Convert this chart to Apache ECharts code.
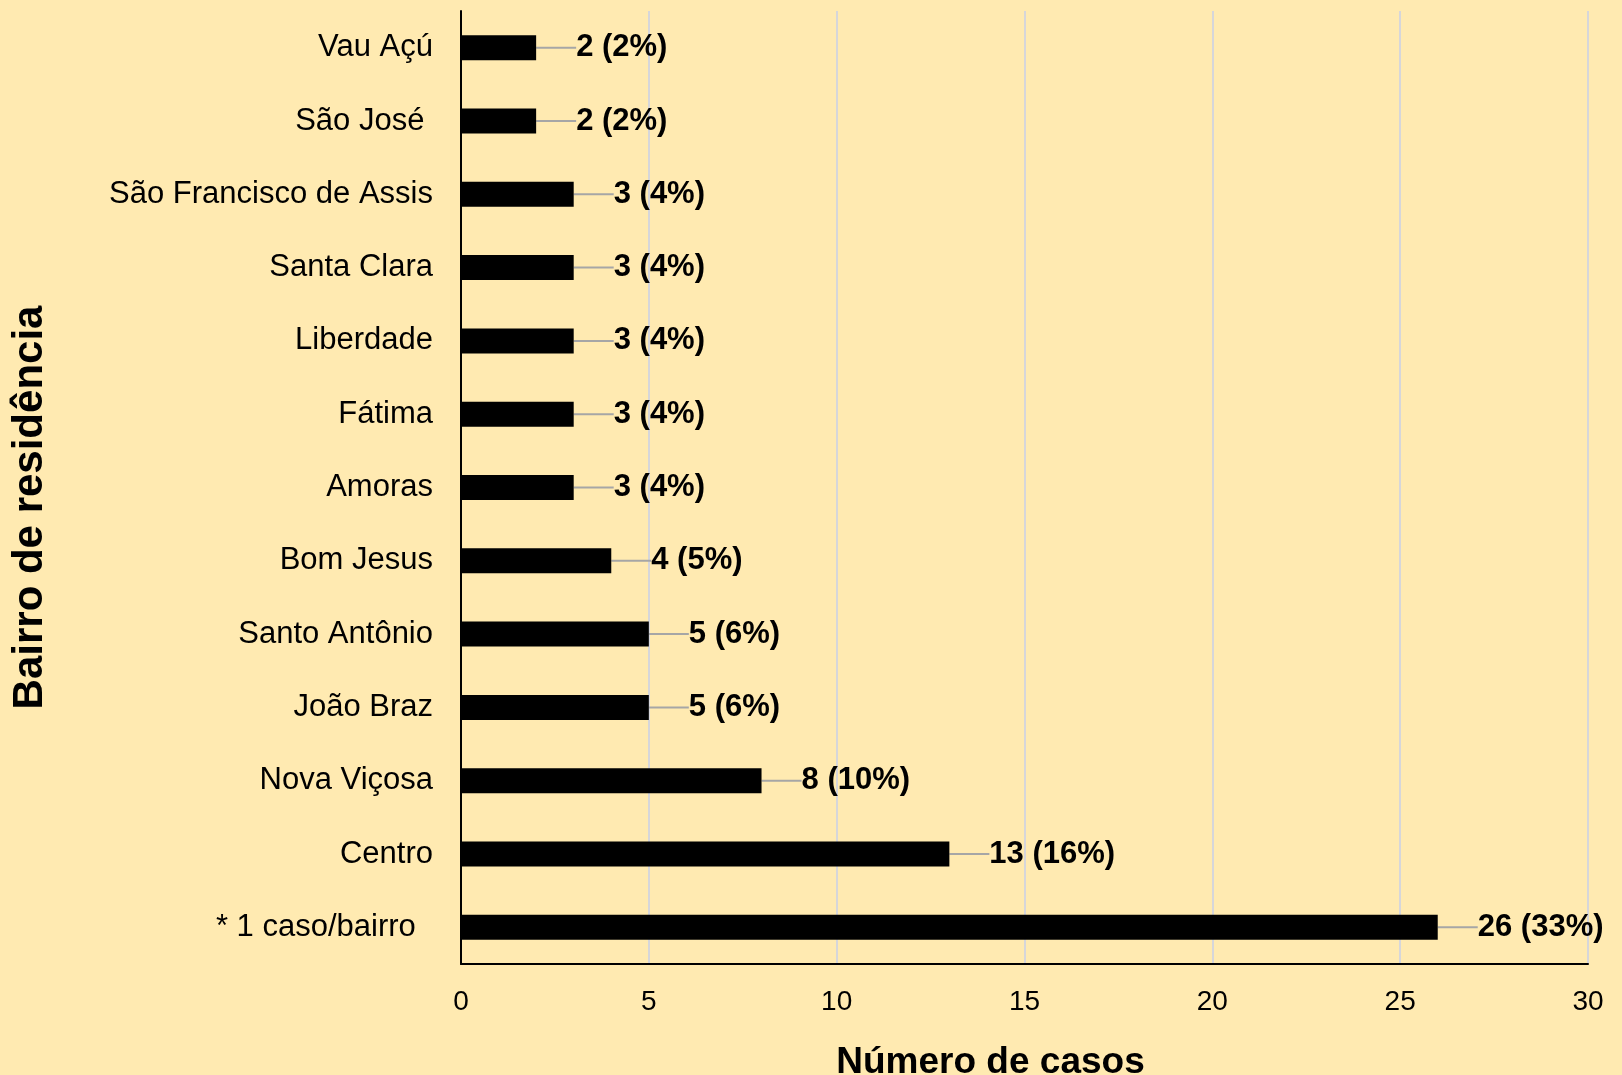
<!DOCTYPE html>
<html>
<head>
<meta charset="utf-8">
<script src="https://cdn.jsdelivr.net/npm/echarts@6/dist/echarts.min.js"></script>
<style>
  html, body { margin: 0; padding: 0; background: #FFEAB1; }
  #chart { width: 1622px; height: 1075px; }
</style>
</head>
<body>
<div id="chart"></div>
<script>
// bairros, top to bottom as in the figure
const bairros = [
    'Vau Açú', 'São José ', 'São Francisco de Assis', 'Santa Clara', 'Liberdade',
    'Fátima', 'Amoras', 'Bom Jesus', 'Santo Antônio', 'João Braz',
    'Nova Viçosa', 'Centro', '* 1 caso/bairro  '
];
const casos = [2, 2, 3, 3, 3, 3, 3, 4, 5, 5, 8, 13, 26];
const percentuais = [2, 2, 4, 4, 4, 4, 4, 5, 6, 6, 10, 16, 33];
const xTicks = [0, 5, 10, 15, 20, 25, 30];

const font = 'Liberation Sans, Arial, sans-serif';

function buildOption() {
    const option = {
        backgroundColor: '#FFEAB1',
        animation: false,
        textStyle: { fontFamily: font },
        grid: {
            left: 461,
            right: 34,
            top: 11,
            bottom: 111,
            outerBoundsMode: 'none',
            containLabel: false,
        },
        xAxis: {
            type: 'value',
            min: xTicks[0],
            max: xTicks[xTicks.length - 1],
            interval: 5,
            name: 'Número de casos',
            nameLocation: 'middle',
            nameGap: 80,
            nameTextStyle: {
                fontSize: 37,
                fontWeight: 'bold',
                color: '#000',
                padding: [0, 68, 0, 0],
            },
            axisLine: { show: true, lineStyle: { color: '#000', width: 2 } },
            axisTick: { show: false },
            axisLabel: { fontSize: 28, color: '#000', margin: 24 },
            splitLine: { show: true, lineStyle: { color: '#D6D6DA', width: 2 } },
        },
        yAxis: {
            type: 'category',
            data: bairros,
            inverse: true,
            name: 'Bairro de residência',
            nameLocation: 'middle',
            nameGap: 410,
            nameTextStyle: {
                fontSize: 42,
                fontWeight: 'bold',
                color: '#000',
                padding: [0, 40, 0, 0],
            },
            axisLine: { show: true, lineStyle: { color: '#000', width: 2 } },
            axisTick: { show: false },
            axisLabel: { fontSize: 31, color: '#000', margin: 28 },
        },
        series: [
            {
                type: 'bar',
                data: casos,
                barWidth: 25,
                itemStyle: { color: '#000' },
                label: {
                    show: true,
                    position: 'right',
                    distance: 0,
                    fontSize: 31,
                    fontWeight: 'bold',
                    color: '#000',
                    formatter: (p) => `${casos[p.dataIndex]} (${percentuais[p.dataIndex]}%)`,
                },
                labelLayout: { dx: 40 },
                labelLine: {
                    show: true,
                    lineStyle: { color: '#A6A6A6', width: 2 },
                },
            },
        ],
    };
    return option;
}

const chart = echarts.init(document.getElementById('chart'));
chart.setOption(buildOption());
</script>
</body>
</html>
